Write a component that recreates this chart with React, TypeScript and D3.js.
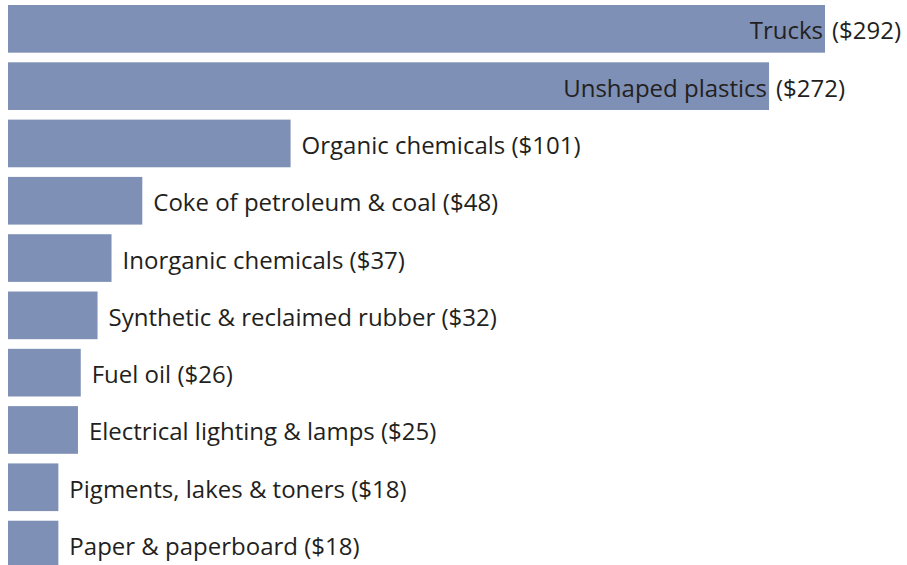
import React from "react";
import * as d3 from "d3";

const categories = [
  "Trucks",
  "Unshaped plastics",
  "Organic chemicals",
  "Coke of petroleum & coal",
  "Inorganic chemicals",
  "Synthetic & reclaimed rubber",
  "Fuel oil",
  "Electrical lighting & lamps",
  "Pigments, lakes & toners",
  "Paper & paperboard",
];
const values = [292, 272, 101, 48, 37, 32, 26, 25, 18, 18];

const W = 907;
const H = 565;

export default function App() {
  const x = d3.scaleLinear().domain([0, 292]).range([8, 825]);
  const y = d3
    .scaleBand<string>()
    .domain(categories)
    .range([5, 568.4])
    .paddingInner(0.168)
    .paddingOuter(0);
  const fs = 24;
  const font = "'Open Sans', sans-serif";
  return (
    <svg
      width={W}
      height={H}
      style={{ position: "absolute", left: 0, top: 0 }}
      fontFamily={font}
    >
      {categories.map((c, i) => {
        const v = values[i];
        const x1 = x(v);
        const y0 = y(c)!;
        const bh = y.bandwidth();
        const cy = y0 + bh / 2 + 10.5;
        const approxW = (c.length + 7) * fs * 0.52;
        const overflow = x1 + 11 + approxW > W;
        return (
          <g key={c}>
            <rect x={x(0)} y={y0} width={x1 - x(0)} height={bh} fill="#7E90B6" />
            {overflow ? (
              <>
                <text x={x1 - 2} y={cy} textAnchor="end" fontSize={fs} fill="#231F20">
                  {c}
                </text>
                <text x={x1 + 7} y={cy} fontSize={fs} fill="#231F20">
                  {`($${v})`}
                </text>
              </>
            ) : (
              <text x={x1 + 11} y={cy} fontSize={fs} fill="#231F20">
                {`${c} ($${v})`}
              </text>
            )}
          </g>
        );
      })}
    </svg>
  );
}
